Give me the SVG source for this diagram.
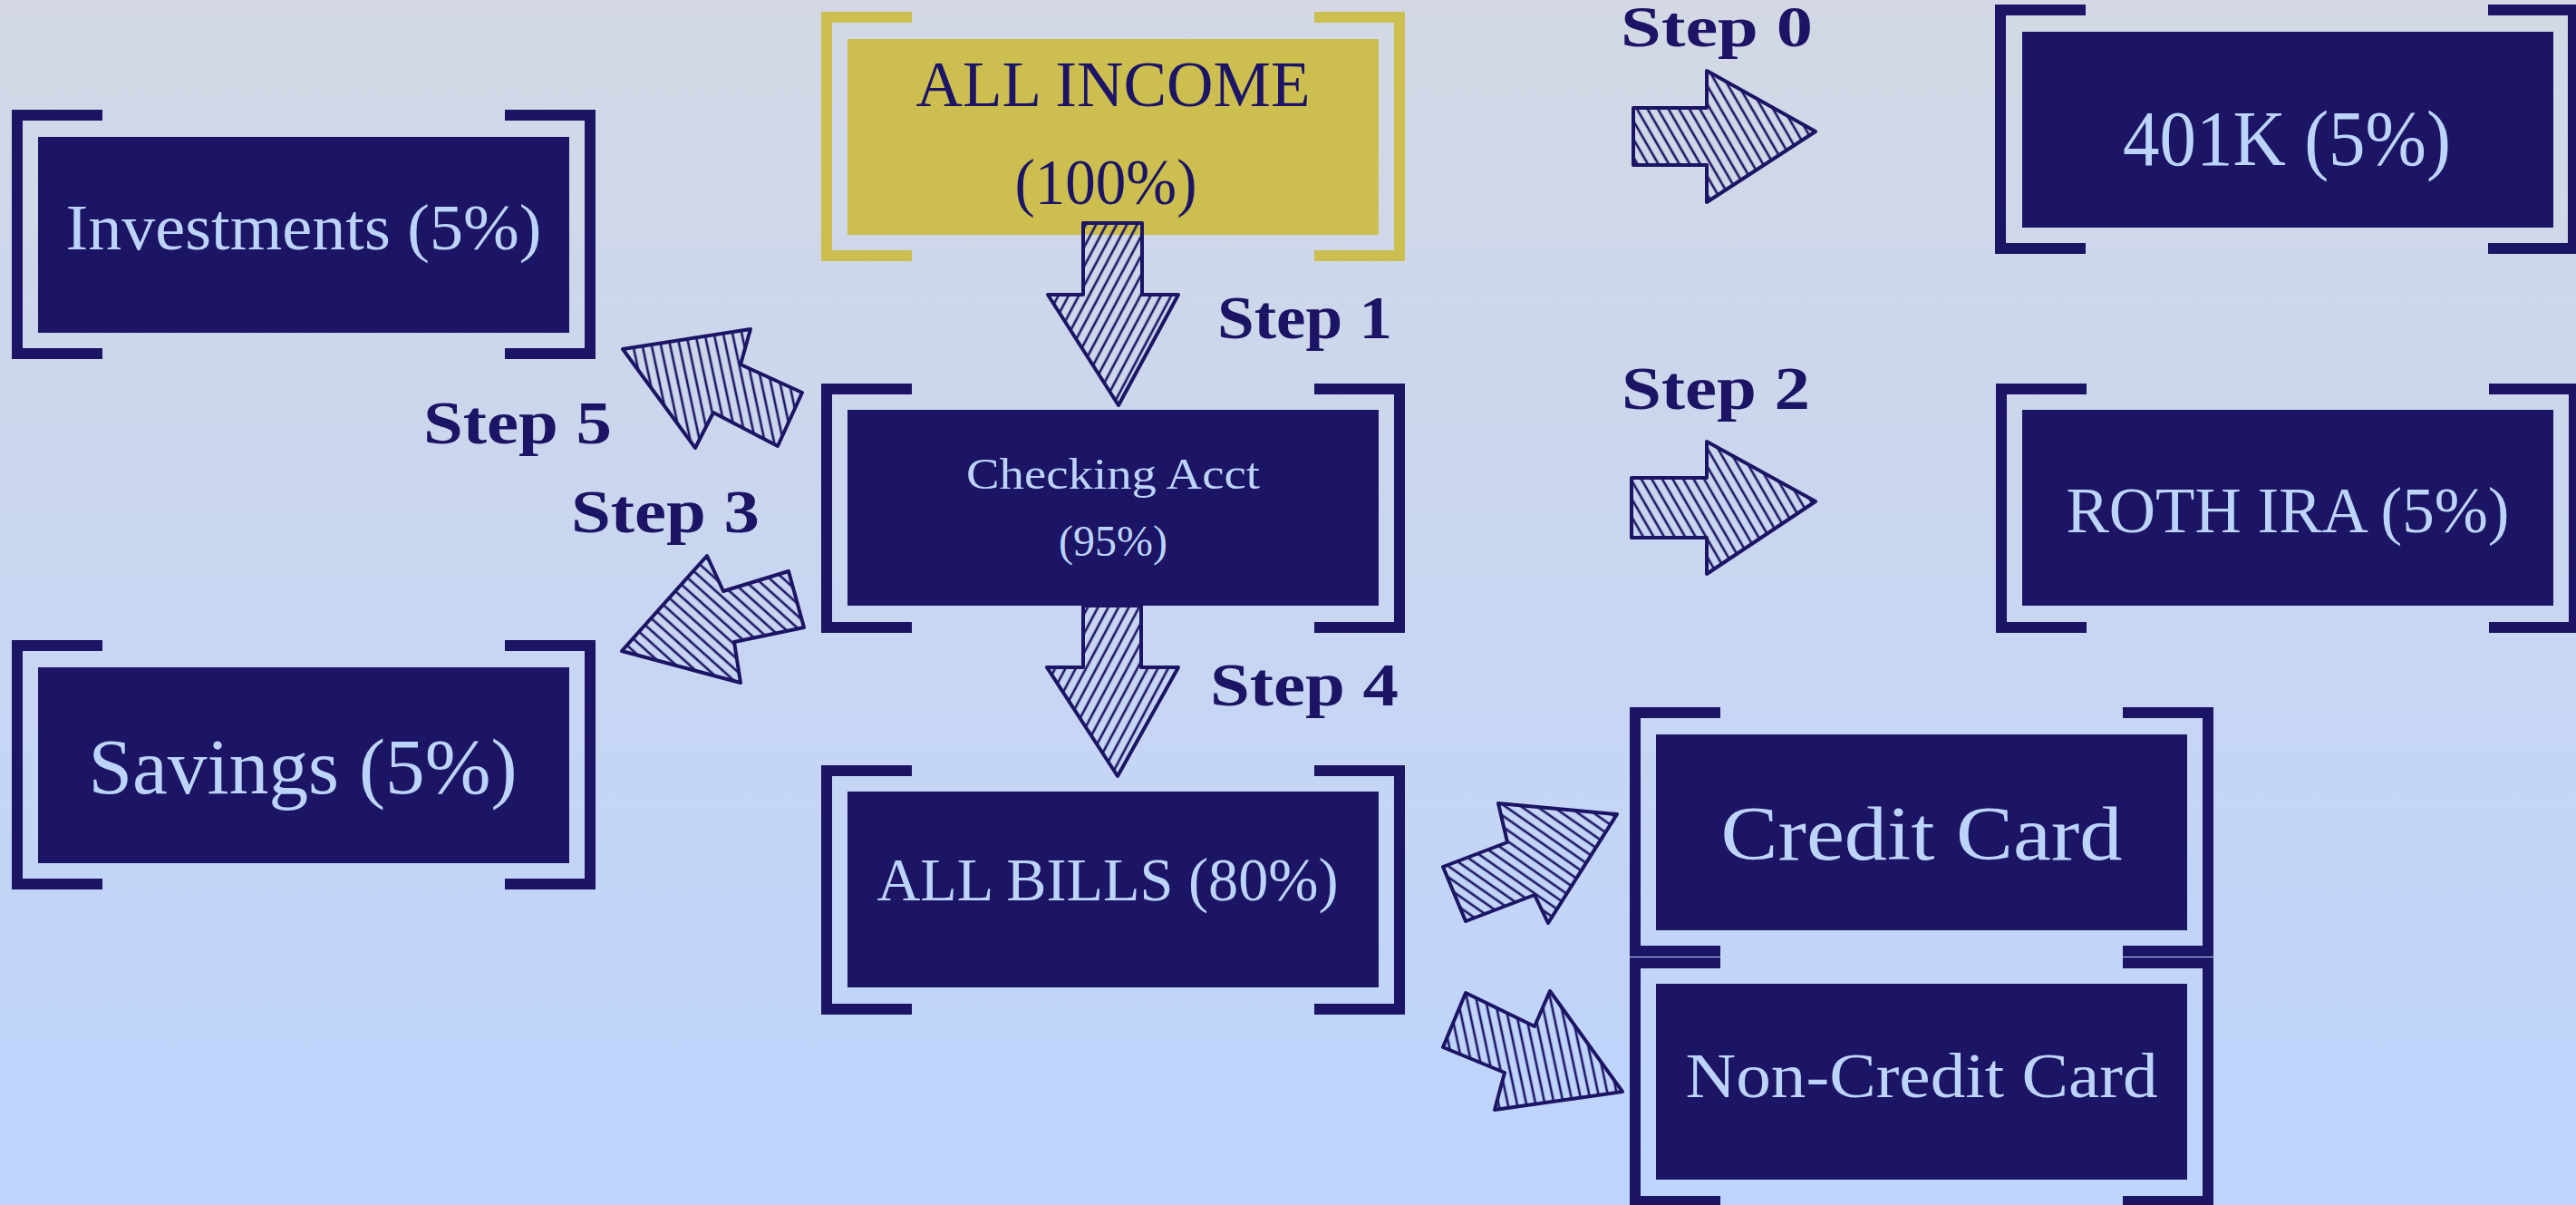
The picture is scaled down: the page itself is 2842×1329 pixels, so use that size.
<svg xmlns="http://www.w3.org/2000/svg" xmlns:xlink="http://www.w3.org/1999/xlink" width="2842" height="1329" viewBox="0 0 2842 1329">
  <style>
    .bk { fill: #1C1464; }
    .bky { fill: #CCBF50; }
    .inner { fill: #1C1464; }
    .innery { fill: #CCBF50; }
    .lbl { font-family: "Liberation Serif", "DejaVu Serif", serif; fill: #BCD4FA; text-anchor: middle; }
    .lbly { font-family: "Liberation Serif", "DejaVu Serif", serif; fill: #1C1464; text-anchor: middle; }
    .step { font-family: "Liberation Serif", "DejaVu Serif", serif; font-weight: bold; font-size: 68px; fill: #1C1464; }
    .arrow { stroke: #1C1464; stroke-width: 4; stroke-linejoin: round; }
  </style>
  <defs>
    <linearGradient id="bg" x1="0" y1="0" x2="0" y2="1">
      <stop offset="0" stop-color="#D3D8E4"/>
      <stop offset="1" stop-color="#BDD4FE"/>
    </linearGradient>
    <path id="frame" d="M0,0 H100 V12 H12 V263 H100 V275 H0 Z M644,0 H544 V12 H632 V263 H544 V275 H644 Z"/>
    <pattern id="hA" width="10" height="20" patternUnits="userSpaceOnUse" patternTransform="rotate(28)">
      <line x1="4" y1="0" x2="4" y2="20" stroke="#1C1464" stroke-width="2.6"/>
    </pattern>
    <pattern id="hB" width="10" height="20" patternUnits="userSpaceOnUse" patternTransform="rotate(-30)">
      <line x1="4" y1="0" x2="4" y2="20" stroke="#1C1464" stroke-width="2.6"/>
    </pattern>
    <pattern id="hC" width="10" height="20" patternUnits="userSpaceOnUse" patternTransform="rotate(-12)">
      <line x1="4" y1="0" x2="4" y2="20" stroke="#1C1464" stroke-width="2.6"/>
    </pattern>
    <pattern id="hD" width="10" height="20" patternUnits="userSpaceOnUse" patternTransform="rotate(-55)">
      <line x1="4" y1="0" x2="4" y2="20" stroke="#1C1464" stroke-width="2.6"/>
    </pattern>
    <pattern id="hE" width="10" height="20" patternUnits="userSpaceOnUse" patternTransform="rotate(-48)">
      <line x1="4" y1="0" x2="4" y2="20" stroke="#1C1464" stroke-width="2.6"/>
    </pattern>
  </defs>

  <rect x="0" y="0" width="2842" height="1329" fill="url(#bg)"/>

  <g id="node-investments" transform="translate(13,121)">
    <use xlink:href="#frame" class="bk"/>
    <rect class="inner" x="29" y="30" width="586" height="216"/>
    <text class="lbl" x="322" y="154" font-size="71" textLength="525" lengthAdjust="spacingAndGlyphs">Investments (5%)</text>
  </g>

  <g id="node-income" transform="translate(906,13)">
    <use xlink:href="#frame" class="bky"/>
    <rect class="innery" x="29" y="30" width="586" height="216"/>
    <text class="lbly" x="322" y="104" font-size="72" textLength="435" lengthAdjust="spacingAndGlyphs">ALL INCOME</text>
    <text class="lbly" x="314" y="212" font-size="72" textLength="201" lengthAdjust="spacingAndGlyphs">(100%)</text>
  </g>

  <g id="node-401k" transform="translate(2201,5)">
    <use xlink:href="#frame" class="bk"/>
    <rect class="inner" x="30" y="30" width="586" height="216"/>
    <text class="lbl" x="322" y="177" font-size="86" textLength="362" lengthAdjust="spacingAndGlyphs">401K (5%)</text>
  </g>

  <g id="node-checking" transform="translate(906,423)">
    <use xlink:href="#frame" class="bk"/>
    <rect class="inner" x="29" y="29" width="586" height="216"/>
    <text class="lbl" x="322" y="116" font-size="48" textLength="324" lengthAdjust="spacingAndGlyphs">Checking Acct</text>
    <text class="lbl" x="322" y="190" font-size="48" textLength="120" lengthAdjust="spacingAndGlyphs">(95%)</text>
  </g>

  <g id="node-roth" transform="translate(2202,423)">
    <use xlink:href="#frame" class="bk"/>
    <rect class="inner" x="29" y="29" width="586" height="216"/>
    <text class="lbl" x="322" y="164" font-size="72" textLength="489" lengthAdjust="spacingAndGlyphs">ROTH IRA (5%)</text>
  </g>

  <g id="node-savings" transform="translate(13,706)">
    <use xlink:href="#frame" class="bk"/>
    <rect class="inner" x="29" y="30" width="586" height="216"/>
    <text class="lbl" x="321" y="169" font-size="86" textLength="473" lengthAdjust="spacingAndGlyphs">Savings (5%)</text>
  </g>

  <g id="node-bills" transform="translate(906,844)">
    <use xlink:href="#frame" class="bk"/>
    <rect class="inner" x="29" y="29" width="586" height="216"/>
    <text class="lbl" x="316" y="149" font-size="68" textLength="509" lengthAdjust="spacingAndGlyphs">ALL BILLS (80%)</text>
  </g>

  <g id="node-credit" transform="translate(1798,780)">
    <use xlink:href="#frame" class="bk"/>
    <rect class="inner" x="29" y="30" width="586" height="216"/>
    <text class="lbl" x="322" y="168" font-size="84" textLength="443" lengthAdjust="spacingAndGlyphs">Credit Card</text>
  </g>

  <g id="node-noncredit" transform="translate(1798,1056)">
    <use xlink:href="#frame" class="bk"/>
    <rect class="inner" x="29" y="29" width="586" height="216"/>
    <text class="lbl" x="322" y="154" font-size="70" textLength="521" lengthAdjust="spacingAndGlyphs">Non-Credit Card</text>
  </g>

  <g id="connectors">
    <path id="arrow-step0" class="arrow" fill="url(#hB)" d="M1802,119 L1883,119 L1883,78 L2003,145 L1883,223 L1883,182 L1802,182 Z"/>
    <path id="arrow-step1" class="arrow" fill="url(#hA)" d="M1195,246 L1260,246 L1260,325 L1300,325 L1234,447 L1156,325 L1195,325 Z"/>
    <path id="arrow-step2" class="arrow" fill="url(#hB)" d="M1800,527 L1883,527 L1883,487 L2003,553 L1883,633 L1883,593 L1800,593 Z"/>
    <path id="arrow-step3" class="arrow" fill="url(#hE)" d="M686,718 L780,613 L798,652 L870,630 L887,692 L810,708 L817,753 Z"/>
    <path id="arrow-step4" class="arrow" fill="url(#hA)" d="M1195,668 L1259,668 L1259,736 L1300,736 L1233,856 L1155,736 L1195,736 Z"/>
    <path id="arrow-step5" class="arrow" fill="url(#hC)" d="M687,385 L828,363 L817,402 L885,433 L858,492 L787,455 L767,494 Z"/>
    <path id="arrow-credit" class="arrow" fill="url(#hD)" d="M1592,956 L1663,929 L1653,886 L1784,898 L1708,1018 L1693,987 L1617,1016 Z"/>
    <path id="arrow-noncredit" class="arrow" fill="url(#hC)" d="M1617,1095 L1693,1132 L1710,1093 L1790,1204 L1649,1224 L1660,1183 L1592,1155 Z"/>
  </g>

  <g id="labels">
    <text class="step" x="1788" y="51" font-size="64" style="font-size:64px" textLength="212" lengthAdjust="spacingAndGlyphs">Step 0</text>
    <text class="step" x="1343" y="373" textLength="193" lengthAdjust="spacingAndGlyphs">Step 1</text>
    <text class="step" x="1789" y="451" textLength="208" lengthAdjust="spacingAndGlyphs">Step 2</text>
    <text class="step" x="630" y="587" textLength="208" lengthAdjust="spacingAndGlyphs">Step 3</text>
    <text class="step" x="1335" y="778" textLength="208" lengthAdjust="spacingAndGlyphs">Step 4</text>
    <text class="step" x="467" y="489" textLength="208" lengthAdjust="spacingAndGlyphs">Step 5</text>
  </g>
</svg>
